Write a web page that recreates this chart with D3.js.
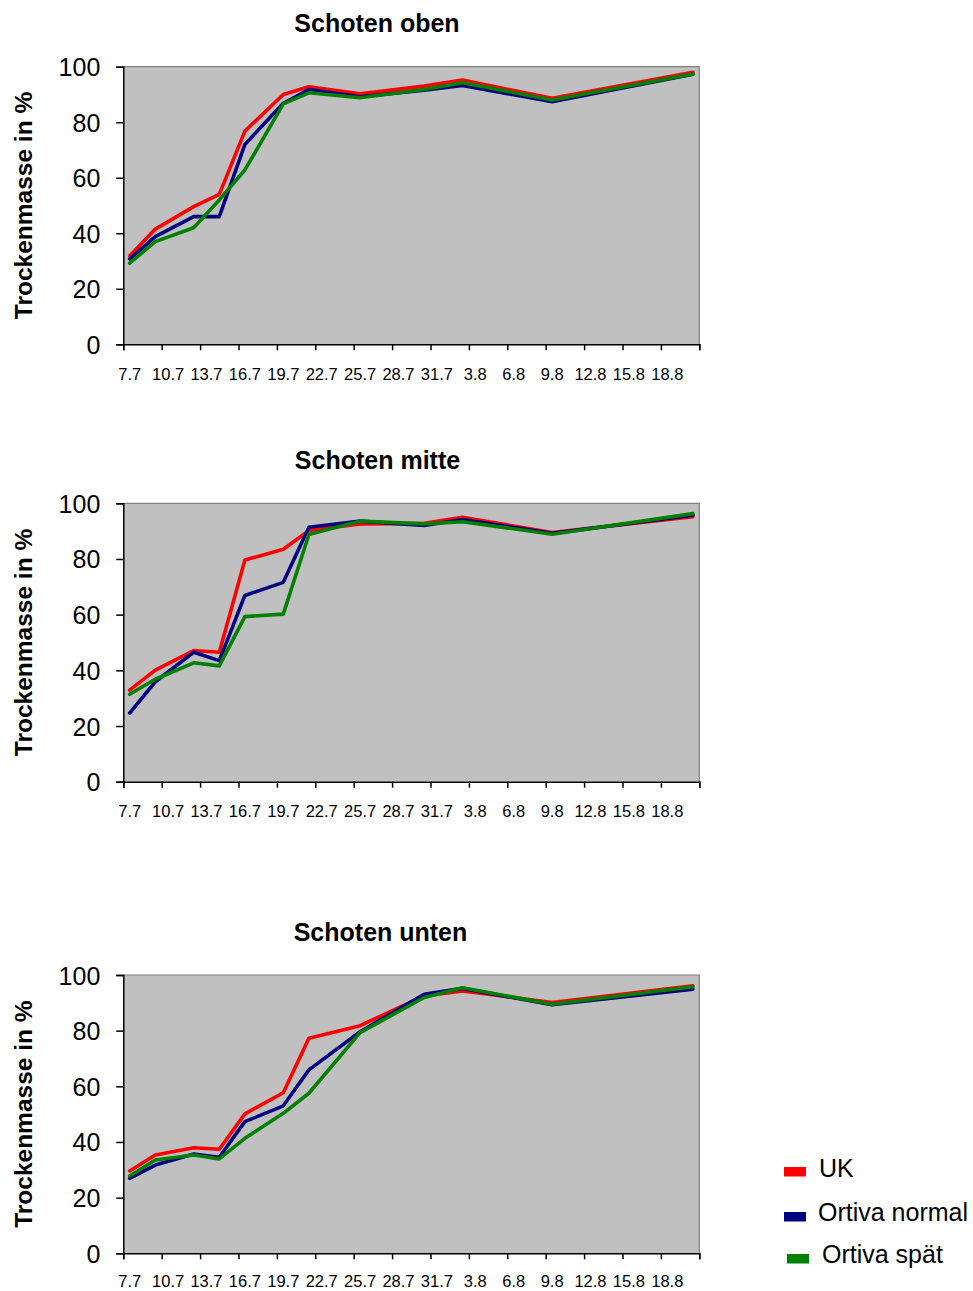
<!DOCTYPE html>
<html>
<head>
<meta charset="utf-8">
<script src="https://cdn.jsdelivr.net/npm/d3@7"></script>
<style>
  html, body { margin: 0; padding: 0; background: #ffffff; }
  svg { display: block; }
  text { font-family: "Liberation Sans", Arial, Helvetica, sans-serif; fill: #000; }
</style>
</head>
<body>
<svg id="chart" width="973" height="1291"></svg>
<script>
// Sampling dates (day.month) and x-axis tick labels
const sampleDates = ["7.7", "9.7", "12.7", "14.7", "16.7", "19.7", "21.7", "25.7", "30.7", "2.8", "9.8", "20.8"];
const tickLabels = ["7.7", "10.7", "13.7", "16.7", "19.7", "22.7", "25.7", "28.7", "31.7", "3.8", "6.8", "9.8", "12.8", "15.8", "18.8"];
const axisStart = "7.7";
const axisEnd = "21.8";
const yTicks = [0, 20, 40, 60, 80, 100];

const seriesNames = ["UK", "Ortiva normal", "Ortiva spät"];
const seriesColors = ["#ff0000", "#000080", "#008000"];

const panelTitles = ["Schoten oben", "Schoten mitte", "Schoten unten"];

// Trockenmasse (%) per panel, one array per variant
const obenUK     = [31.8, 41.5, 49.6, 54.0, 76.8, 90.0, 92.8, 90.2, 93.0, 95.2, 88.6, 98.0];
const obenNormal = [30.7, 38.8, 46.0, 46.0, 72.0, 86.8, 91.8, 89.2, 91.5, 93.2, 87.4, 97.3];
const obenSpaet  = [29.2, 37.0, 42.0, 52.0, 62.8, 86.6, 90.6, 88.8, 91.8, 94.2, 88.0, 97.4];

const mitteUK     = [32.9, 40.1, 47.1, 46.5, 79.6, 83.5, 90.2, 92.6, 92.8, 95.0, 89.5, 95.2];
const mitteNormal = [24.6, 35.9, 46.5, 43.5, 66.9, 71.6, 91.4, 93.6, 92.0, 94.2, 89.2, 95.7];
const mitteSpaet  = [31.4, 36.8, 42.7, 41.6, 59.3, 60.2, 88.8, 93.6, 92.6, 93.4, 88.9, 96.3];

const untenUK     = [29.6, 35.3, 37.9, 37.4, 50.1, 57.7, 77.3, 81.8, 92.5, 94.3, 90.1, 96.1];
const untenNormal = [26.9, 31.7, 35.7, 34.5, 47.3, 53.0, 65.9, 79.6, 93.1, 95.2, 89.3, 94.9];
const untenSpaet  = [27.8, 33.5, 35.3, 33.9, 41.3, 50.3, 57.5, 79.3, 91.9, 95.4, 89.5, 95.8];

const panelValues = [
  [obenUK, obenNormal, obenSpaet],
  [mitteUK, mitteNormal, mitteSpaet],
  [untenUK, untenNormal, untenSpaet]
];

// Layout of the three panels
const plotLeft = 123.3, plotRight = 699.3;
const panelLayout = [
  { top: 66.7,  bottom: 344.3,  titleX: 377,   titleY: 32,  labelY: 380 },
  { top: 503.3, bottom: 781.7,  titleX: 377.5, titleY: 469, labelY: 817 },
  { top: 975,   bottom: 1253.3, titleX: 380.5, titleY: 941, labelY: 1286.5 }
];

const parseDay = d3.timeParse("%d.%m");
const dayCenter = s => d3.timeHour.offset(parseDay(s), 12);

const svg = d3.select("#chart");

const x = d3.scaleTime()
  .domain([parseDay(axisStart), parseDay(axisEnd)])
  .range([plotLeft, plotRight]);

const tickDates = d3.range(0, 46, 3).map(k => d3.timeDay.offset(parseDay(axisStart), k));

panelLayout.forEach((lay, pi) => {
  const g = svg.append("g");
  const y = d3.scaleLinear().domain([0, 100]).range([lay.bottom, lay.top]);

  // plot area
  g.append("rect")
    .attr("x", plotLeft).attr("y", lay.top)
    .attr("width", plotRight - plotLeft).attr("height", lay.bottom - lay.top)
    .attr("fill", "#c0c0c0");
  // top and right frame
  g.append("path")
    .attr("d", `M${plotLeft},${lay.top}H${plotRight}V${lay.bottom}`)
    .attr("fill", "none").attr("stroke", "#808080").attr("stroke-width", 1.2);

  // series lines
  const line = d3.line()
    .x((d, i) => x(dayCenter(sampleDates[i])))
    .y(d => y(d));
  panelValues[pi].forEach((vals, si) => {
    g.append("path")
      .datum(vals)
      .attr("d", line)
      .attr("fill", "none")
      .attr("stroke", seriesColors[si])
      .attr("stroke-width", 3.6)
      .attr("stroke-linejoin", "round")
      .attr("stroke-linecap", "round");
  });

  // y axis
  const yAxis = d3.axisLeft(y).tickValues(yTicks).tickSize(7).tickPadding(0).tickFormat(d3.format("d"));
  const ya = g.append("g").attr("transform", `translate(${plotLeft},0)`).call(yAxis);
  ya.select(".domain").attr("stroke", "#000").attr("stroke-width", 1.5);
  ya.selectAll(".tick line").attr("stroke", "#000").attr("stroke-width", 1.5);
  ya.selectAll(".tick text")
    .attr("x", -23).attr("dy", "0.36em")
    .style("font-size", "25px")
    .style("font-family", '"Liberation Sans", Arial, sans-serif')
    .attr("fill", "#000");

  // x axis: tick marks on day boundaries
  const xAxis = d3.axisBottom(x).tickValues(tickDates).tickSize(6).tickFormat("");
  const xa = g.append("g").attr("transform", `translate(0,${lay.bottom})`).call(xAxis);
  xa.select(".domain").attr("stroke", "#000").attr("stroke-width", 1.5);
  xa.selectAll(".tick line").attr("stroke", "#000").attr("stroke-width", 1.5);

  // x labels centred on their day
  g.selectAll(".xlab")
    .data(tickLabels)
    .join("text")
    .attr("class", "xlab")
    .attr("x", d => x(dayCenter(d)))
    .attr("y", lay.labelY)
    .attr("text-anchor", "middle")
    .style("font-size", "16.5px")
    .text(d => d);

  // y-axis title
  g.append("text")
    .attr("transform", `translate(32,${(lay.top + lay.bottom) / 2}) rotate(-90)`)
    .attr("text-anchor", "middle")
    .style("font-size", "24.5px")
    .style("font-weight", "bold")
    .text("Trockenmasse in %");

  // panel title
  g.append("text")
    .attr("x", lay.titleX).attr("y", lay.titleY)
    .attr("text-anchor", "middle")
    .style("font-size", "25px")
    .style("font-weight", "bold")
    .text(panelTitles[pi]);
});

// legend
const legendItems = [
  { sx: 784, sy: 1167, tx: 819, ty: 1177 },
  { sx: 784, sy: 1212, tx: 818, ty: 1221 },
  { sx: 787, sy: 1254, tx: 822, ty: 1263 }
];
const lg = svg.append("g");
legendItems.forEach((p, i) => {
  lg.append("rect")
    .attr("x", p.sx).attr("y", p.sy)
    .attr("width", 22).attr("height", 9.5)
    .attr("fill", seriesColors[i]);
  lg.append("text")
    .attr("x", p.tx).attr("y", p.ty)
    .style("font-size", "25px")
    .text(seriesNames[i]);
});
</script>
</body>
</html>
